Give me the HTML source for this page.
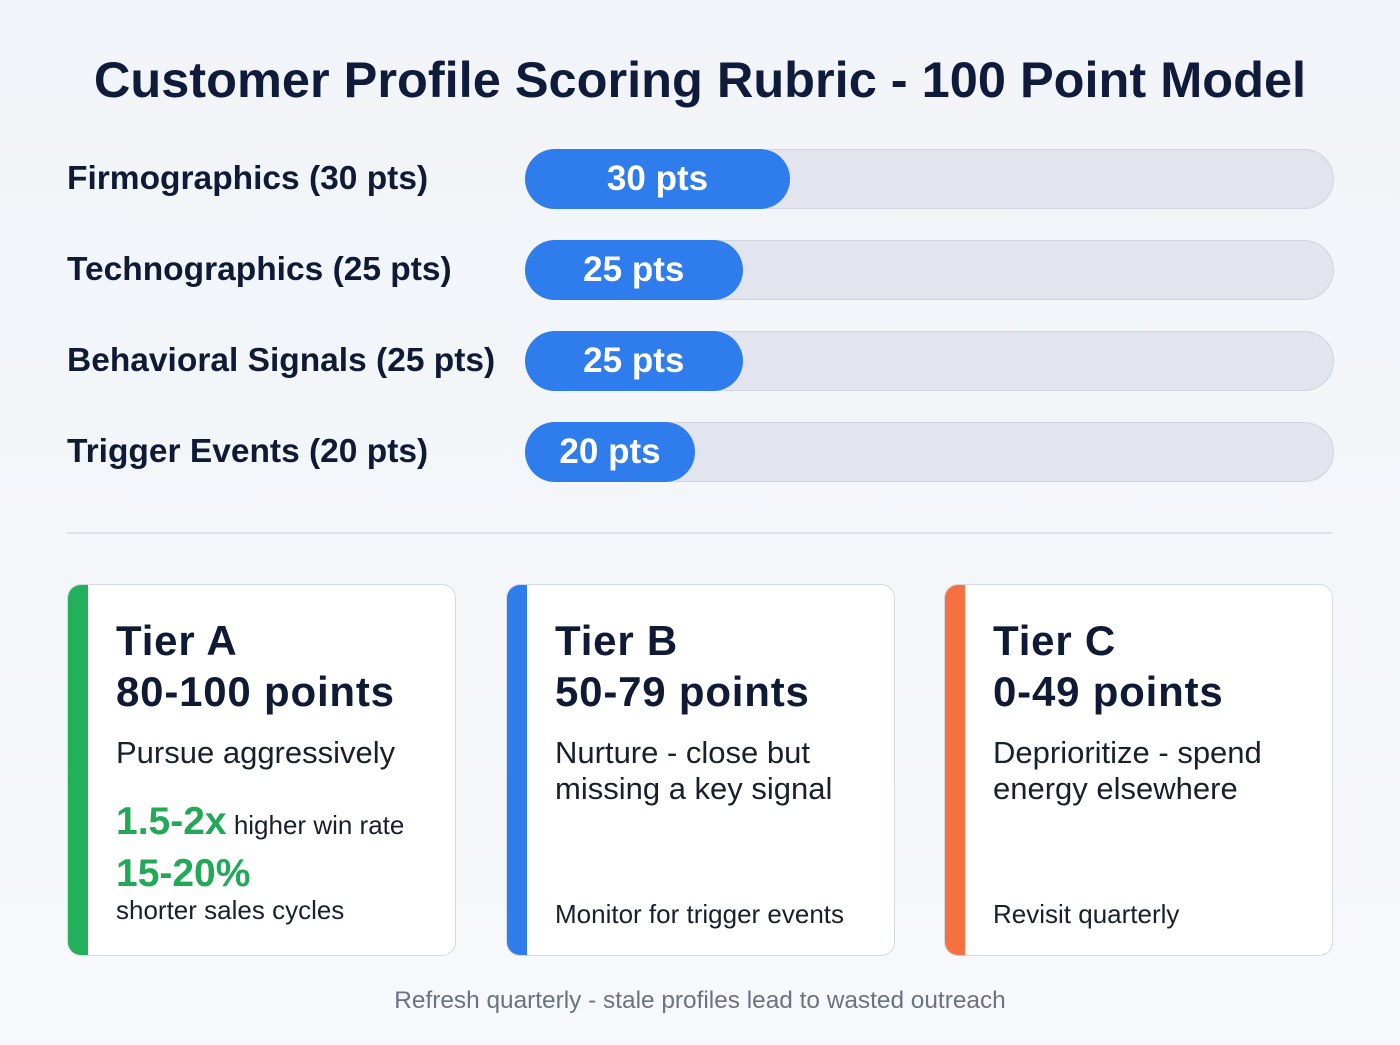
<!DOCTYPE html>
<html><head><meta charset="utf-8"><style>
body{margin:0;width:1400px;height:1045px;background:linear-gradient(180deg,#f1f4f8,#f6f8fb);font-family:"Liberation Sans",sans-serif;position:relative;overflow:hidden;color:#0f1b35}
.abs{position:absolute}
.title{left:0;width:1400px;top:50px;text-align:center;font-size:50.5px;font-weight:bold;color:#0f1b3a}
.lbl{left:67px;font-size:33.5px;font-weight:bold;line-height:60px}
.track{left:525px;width:807px;height:58px;border-radius:30px;background:#e2e5ee;border:1px solid #cfd4de}
.fill{left:525px;height:60px;border-radius:30px;background:#2f7ded;color:#fff;font-size:35px;font-weight:bold;text-align:center;line-height:60px}
.card{top:584px;width:389px;height:372px;background:#fff;border:1.5px solid #d5d9e0;border-radius:14px;overflow:hidden;box-sizing:border-box}
.stripe{left:0;top:0;width:20px;height:100%}
.h{left:48px;top:30px;font-size:42px;letter-spacing:0.8px;font-weight:bold;line-height:51px}
.d{left:48px;top:150px;font-size:31px;line-height:36px;color:#1a1f2e}
.s{left:48px;font-size:26px;color:#1a1f2e}
.g{color:#22a958;font-weight:bold}
</style></head><body>
<div class="abs title">Customer Profile Scoring Rubric - 100 Point Model</div>
<div id="bars"></div>
<div class="abs" style="left:67px;top:532px;width:1265px;height:2px;background:#dde1e8"></div>

<div class="abs card" style="left:67px">
<div class="abs stripe" style="background:#22b05a"></div>
<div class="abs h">Tier A<br>80-100 points</div>
<div class="abs d">Pursue aggressively</div>
<div class="abs s" style="top:215px"><span class="g" style="font-size:39px">1.5-2x</span> higher win rate</div>
<div class="abs s" style="top:270px;line-height:38px"><span class="g" style="font-size:39px">15-20%</span><br><span style="position:relative;top:-5px">shorter sales cycles</span></div>
</div>
<div class="abs card" style="left:506px">
<div class="abs stripe" style="background:#2f7ded"></div>
<div class="abs h">Tier B<br>50-79 points</div>
<div class="abs d">Nurture - close but<br>missing a key signal</div>
<div class="abs s" style="top:314px">Monitor for trigger events</div>
</div>
<div class="abs card" style="left:944px">
<div class="abs stripe" style="background:#f5713f"></div>
<div class="abs h">Tier C<br>0-49 points</div>
<div class="abs d">Deprioritize - spend<br>energy elsewhere</div>
<div class="abs s" style="top:314px">Revisit quarterly</div>
</div>
<div class="abs" style="left:0;width:1400px;top:987px;text-align:center;font-size:24.4px;color:#6b7280">Refresh quarterly - stale profiles lead to wasted outreach</div>
<script>
const categories=["Firmographics (30 pts)","Technographics (25 pts)","Behavioral Signals (25 pts)","Trigger Events (20 pts)"];
const values=[30,25,25,20];
const valueLabels=["30 pts","25 pts","25 pts","20 pts"];
function xw(v){return v*9.5-20;}
function yc(i){return 179+i*91;}
const root=document.getElementById('bars');
categories.forEach((c,i)=>{
  const top=yc(i)-30;
  const l=document.createElement('div');l.className='abs lbl';l.style.top=top+'px';l.textContent=c;
  
  
  root.appendChild(l);
  const t=document.createElement('div');t.className='abs track';t.style.top=top+'px';
  
  
  root.appendChild(t);
  const f=document.createElement('div');f.className='abs fill';f.style.top=top+'px';f.style.width=xw(values[i])+'px';f.textContent=valueLabels[i];
  
  
  root.appendChild(f);
});
</script>
</body></html>
